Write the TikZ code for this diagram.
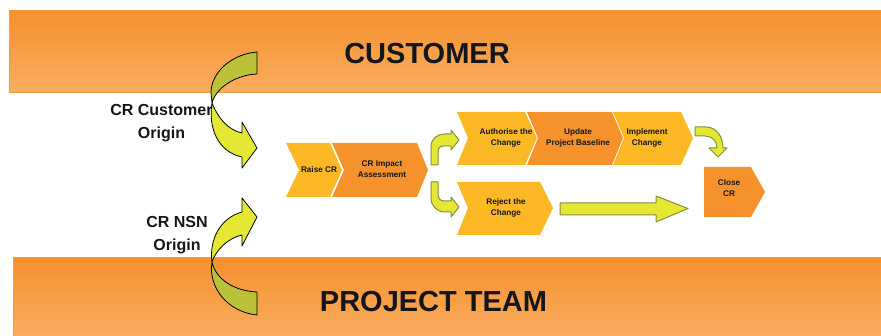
\documentclass[tikz,border=0pt]{standalone}
\usepackage{fontspec}
\setmainfont{Liberation Sans}
\definecolor{chevlight}{HTML}{FDB825}
\definecolor{chevdark}{HTML}{F6922B}
\definecolor{bandtop}{HTML}{F5902F}
\definecolor{bandbot}{HTML}{FAAD5E}
\definecolor{bandedge}{HTML}{F59A42}
\definecolor{arrowyellow}{HTML}{E4E832}
\definecolor{arrowolive}{HTML}{BCC13A}
\definecolor{arrowedge}{HTML}{7F8F45}
\definecolor{inktext}{HTML}{14161C}
\tikzset{
  band/.style={draw=bandedge,line width=1pt,top color=bandtop,bottom color=bandbot},
  chevL/.style={fill=chevlight,draw=none},
  chevD/.style={fill=chevdark,draw=none},
  blockarrow/.style={fill=arrowyellow,draw=arrowedge,line width=1pt,line join=round},
  curveY/.style={fill=arrowyellow,draw=black,line width=.8pt,line join=round},
  curveO/.style={fill=arrowolive,draw=black,line width=.8pt,line join=round},
  bigtitle/.style={font=\fontsize{29}{33}\selectfont\bfseries,text=inktext,inner sep=0pt},
  sidelabel/.style={font=\fontsize{16}{22.5}\selectfont\bfseries,text=inktext,align=center,inner sep=0pt},
  steplabel/.style={font=\fontsize{8.2}{11}\selectfont\bfseries,text=inktext,align=center,inner sep=0pt},
}
\begin{document}
\begin{tikzpicture}[x=1pt,y=-1pt]
\useasboundingbox (0,0) rectangle (881,336);
% banners
\path[band] (9,10.5) rectangle (882,92.5);
\path[band] (13.5,257.5) rectangle (882,337);
% chevrons
\fill[chevL] (286,143) -- (330,143) -- (342,170) -- (330,197) -- (286,197) -- (299,170) -- cycle;
\fill[chevD] (332,143) -- (417,143) -- (428,170) -- (417,197) -- (332,197) -- (344,170) -- cycle;
\fill[chevL] (457,112) -- (525,112) -- (537,138) -- (525,165) -- (457,165) -- (468,138) -- cycle;
\fill[chevD] (527,112) -- (612,112) -- (623,138) -- (612,165) -- (527,165) -- (538,138) -- cycle;
\fill[chevL] (613,112) -- (681,112) -- (693,138) -- (681,165) -- (613,165) -- (624,138) -- cycle;
\fill[chevL] (457,182) -- (540,182) -- (553,208) -- (540,235) -- (457,235) -- (468,208) -- cycle;
\fill[chevD] (704,167) -- (751,167) -- (765,192) -- (751,217) -- (704,217) -- cycle;
% large curved arrows
\draw[curveO] (257,52) .. controls (232,54) and (211,72) .. (211,93) -- (212,103) .. controls (216,88) and (235,75) .. (257,74) -- cycle;
\draw[curveY] (212,103) .. controls (208,128) and (218,152) .. (242,157) -- (242,168) -- (257,148) -- (242,122) -- (242,133) .. controls (228,130) and (218,118) .. (212,103) -- cycle;
\draw[curveY] (212,262) .. controls (209,240) and (220,218) .. (242,212) -- (242,198) -- (257,217) -- (242,246) -- (242,235) .. controls (228,238) and (216,250) .. (212,262) -- cycle;
\draw[curveO] (212,262) .. controls (208,288) and (228,312) .. (257,315) -- (257,292) .. controls (235,291) and (216,280) .. (212,262) -- cycle;
% small block arrows
\draw[blockarrow] (431,165) -- (431,147) .. controls (431,139) and (437,134) .. (445,134) -- (451,134) -- (451,130) -- (459,140) -- (451,150) -- (451,146) -- (444,146) .. controls (440,146) and (438,148) .. (438,152) -- (438,165) -- cycle;
\draw[blockarrow] (431,182) -- (431,198) .. controls (431,206) and (437,212) .. (445,212) -- (451,212) -- (451,217) -- (459,207) -- (451,197) -- (451,201) -- (444,201) .. controls (440,201) and (438,198) .. (438,194) -- (438,182) -- cycle;
\draw[blockarrow] (695,127) -- (706,127) .. controls (716,127) and (723,136) .. (723,148) -- (727,148) -- (718,157) -- (709,148) -- (717,148) .. controls (717,141) and (712,136) .. (705,136) -- (695,136) -- cycle;
\draw[blockarrow] (560,203) -- (656,203) -- (656,196) -- (688,208.5) -- (656,222) -- (656,215) -- (560,215) -- cycle;
% texts
\node[bigtitle] (customer) at (427,54) {CUSTOMER};
\node[bigtitle] (team) at (433.5,302) {PROJECT TEAM};
\node[sidelabel] (crcust) at (161.5,123) {CR Customer\\Origin};
\node[sidelabel] (crnsn) at (177,235) {CR NSN\\Origin};
\node[steplabel] (raise) at (319,170) {Raise CR};
\node[steplabel] (impact) at (382,169.5) {CR Impact\\Assessment};
\node[steplabel] (auth) at (506,137.5) {Authorise the\\Change};
\node[steplabel] (update) at (578,137.5) {Update\\Project Baseline};
\node[steplabel] (impl) at (647,137.5) {Implement\\Change};
\node[steplabel] (reject) at (506,207.5) {Reject the\\Change};
\node[steplabel] (close) at (729,188.5) {Close\\CR};
\end{tikzpicture}
\end{document}
